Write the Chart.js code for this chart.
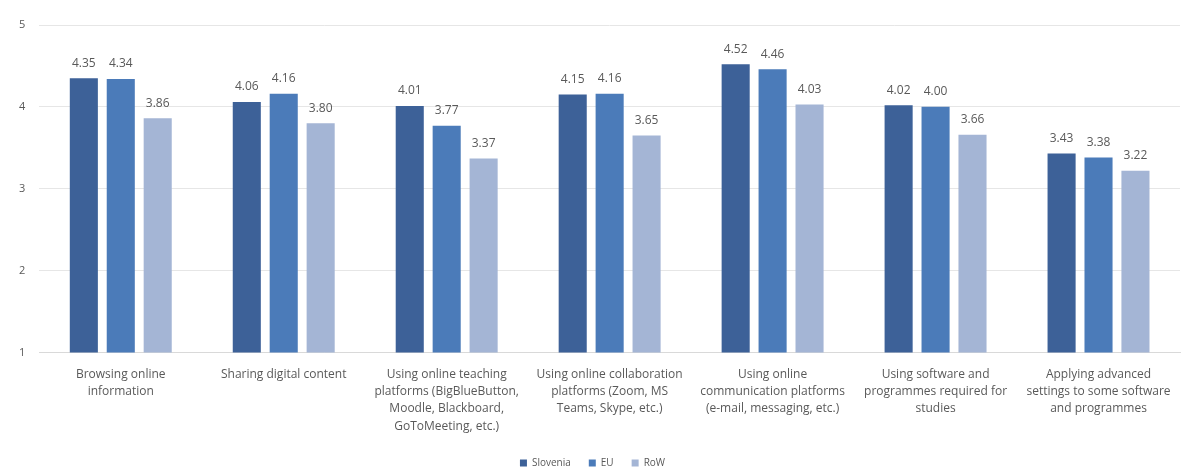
<!DOCTYPE html>
<html>
<head>
<meta charset="utf-8">
<script src="https://cdn.jsdelivr.net/npm/chart.js@4/dist/chart.umd.min.js"></script>
<style>
  html, body { margin: 0; padding: 0; background: #fff; }
  #wrap { width: 1184px; height: 469px; position: relative; }
</style>
</head>
<body>
<div id="wrap"><canvas id="chart"></canvas></div>
<script>
const categories = [
    ["Browsing online", "information"],
    ["Sharing digital content"],
    ["Using online teaching", "platforms (BigBlueButton,", "Moodle, Blackboard,", "GoToMeeting, etc.)"],
    ["Using online collaboration", "platforms (Zoom, MS", "Teams, Skype, etc.)"],
    ["Using online", "communication platforms", "(e-mail, messaging, etc.)"],
    ["Using software and", "programmes required for", "studies"],
    ["Applying advanced", "settings to some software", "and programmes"]
];
const slovenia = [4.35, 4.06, 4.01, 4.15, 4.52, 4.02, 3.43];
const eu = [4.34, 4.16, 3.77, 4.16, 4.46, 4.00, 3.38];
const row = [3.86, 3.80, 3.37, 3.65, 4.03, 3.66, 3.22];
const yTicks = [1, 2, 3, 4, 5];

// value labels above each bar
const valueLabels = {
    id: "valueLabels",
    afterDatasetsDraw(chart) {
        const ctx = chart.ctx;
        ctx.save();
        ctx.font = "12px 'Open Sans', sans-serif";
        ctx.fillStyle = "#595959";
        ctx.textAlign = "center";
        ctx.textBaseline = "bottom";
        chart.data.datasets.forEach((ds, i) => {
            chart.getDatasetMeta(i).data.forEach((bar, j) => {
                ctx.fillText(ds.data[j].toFixed(2), bar.x, bar.y - 9);
            });
        });
        ctx.restore();
    }
};

new Chart(document.getElementById("chart"), {
    type: "bar",
    data: {
        labels: categories,
        datasets: [
            { label: "Slovenia", data: slovenia, backgroundColor: "#3d6198" },
            { label: "EU", data: eu, backgroundColor: "#4b7bb9" },
            { label: "RoW", data: row, backgroundColor: "#a4b5d5" }
        ]
    },
    options: {
        responsive: true,
        maintainAspectRatio: false,
        animation: false,
        layout: { padding: { left: 5, right: 4, top: 25, bottom: -9 } },
        datasets: { bar: { categoryPercentage: 0.68, barPercentage: 0.76 } },
        scales: {
            x: {
                grid: { display: false },
                border: { color: "#d9d9d9" },
                ticks: {
                    color: "#595959",
                    font: { family: "'Open Sans', sans-serif", size: 12, lineHeight: 1.45 },
                    maxRotation: 0,
                    autoSkip: false,
                    padding: 5
                }
            },
            y: {
                min: 1,
                max: 5,
                afterBuildTicks: (axis) => { axis.ticks = yTicks.map(v => ({ value: v })); },
                grid: { color: "#e6e6e6", drawTicks: false },
                border: { display: false },
                ticks: {
                    color: "#595959",
                    font: { family: "'Open Sans', sans-serif", size: 11 },
                    padding: 14
                }
            }
        },
        plugins: {
            legend: {
                position: "bottom",
                labels: {
                    color: "#595959",
                    font: { family: "'Open Sans', sans-serif", size: 10 },
                    boxWidth: 7,
                    boxHeight: 7,
                    padding: 18
                }
            },
            tooltip: { enabled: false }
        }
    },
    plugins: [valueLabels]
});
</script>
</body>
</html>
